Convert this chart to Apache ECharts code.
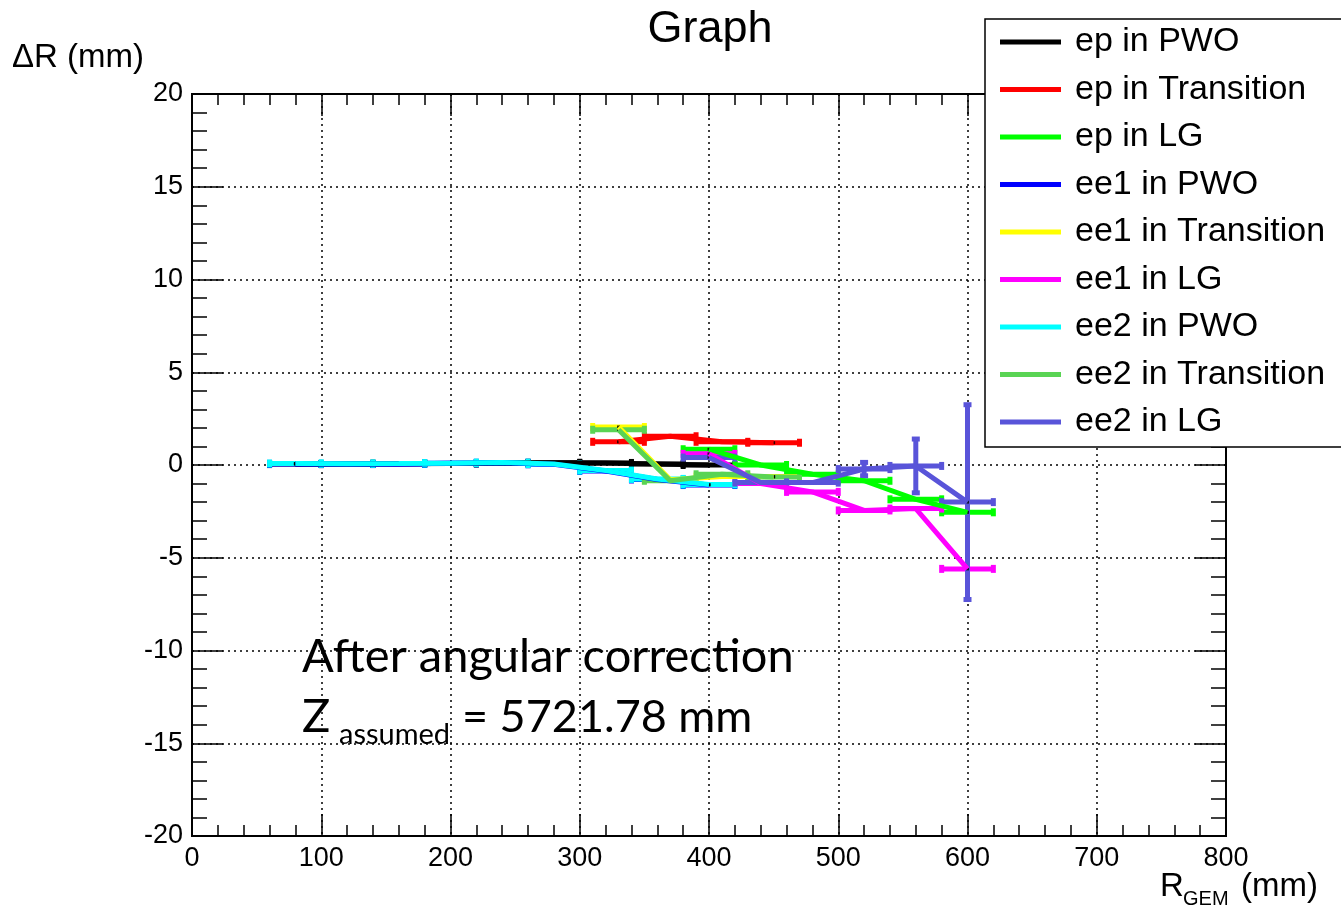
<!DOCTYPE html>
<html>
<head>
<meta charset="utf-8">
<title>Graph</title>
<script src="https://cdn.jsdelivr.net/npm/echarts@6/dist/echarts.min.js"></script>
<style>
  html, body { margin: 0; padding: 0; background: #fff; }
  #main { width: 1341px; height: 916px; }
</style>
</head>
<body>
<div id="main"></div>
<script>
// ---- data ----
var names = ['ep in PWO', 'ep in Transition', 'ep in LG',
             'ee1 in PWO', 'ee1 in Transition', 'ee1 in LG',
             'ee2 in PWO', 'ee2 in Transition', 'ee2 in LG'];
var colors = ['#000000', '#ff0000', '#00ff00',
              '#0000ff', '#ffff00', '#ff00ff',
              '#00ffff', '#59d454', '#5954d9'];

var xPWO = [80, 120, 160, 200, 240, 280, 320, 360, 400];
var xTrans = [330, 370, 410, 450];
var xLG = [400, 440, 480, 520, 560, 600];

var epPWO = [0.05, 0.06, 0.07, 0.08, 0.1, 0.12, 0.11, 0.06, 0.0];
var epTrans = [1.25, 1.55, 1.25, 1.2];
var epLG = [0.85, 0.0, -0.5, -0.85, -1.85, -2.55];
var ee1PWO = [0.06, 0.05, 0.06, 0.09, 0.12, 0.04, -0.32, -0.78, -1.08];
var ee1Trans = [2.05, -0.8, -0.62, -0.62];
var ee1LG = [0.6, -1.0, -1.45, -2.45, -2.35, -5.6];
var ee2PWO = [0.08, 0.07, 0.08, 0.1, 0.13, 0.05, -0.3, -0.75, -1.05];
var ee2Trans = [1.9, -0.85, -0.5, -0.65];
var ee2LG = [0.4, -0.95, -0.95, -0.22, -0.05, -2.0];
var ee2LGerr = [0.1, 0.1, 0.1, 0.36, 1.45, 5.25];

var xErr = 20;

var xs = [xPWO, xTrans, xLG, xPWO, xTrans, xLG, xPWO, xTrans, xLG];
var ys = [epPWO, epTrans, epLG, ee1PWO, ee1Trans, ee1LG, ee2PWO, ee2Trans, ee2LG];
var eys = [null, null, null, null, null, null, null, null, ee2LGerr];

var xTicks = [0, 100, 200, 300, 400, 500, 600, 700, 800];
var yTicks = [-20, -15, -10, -5, 0, 5, 10, 15, 20];

var LW = 5;   // line width
var CAP = 4;  // half length of error bar end caps

function errorItem(params, api) {
  var x = api.value(0), y = api.value(1), ex = api.value(2), ey = api.value(3);
  var c = api.visual('color');
  var l = api.coord([x - ex, y]), r = api.coord([x + ex, y]);
  var t = api.coord([x, y + ey]), b = api.coord([x, y - ey]);
  var st = { stroke: c, lineWidth: LW };
  var kids = [
    { type: 'line', shape: { x1: l[0], y1: l[1], x2: r[0], y2: r[1] }, style: st },
    { type: 'line', shape: { x1: l[0], y1: l[1] - CAP, x2: l[0], y2: l[1] + CAP }, style: st },
    { type: 'line', shape: { x1: r[0], y1: r[1] - CAP, x2: r[0], y2: r[1] + CAP }, style: st }
  ];
  if (b[1] - t[1] > 8) {
    kids.push({ type: 'line', shape: { x1: t[0], y1: t[1], x2: b[0], y2: b[1] }, style: st });
    kids.push({ type: 'line', shape: { x1: t[0] - CAP, y1: t[1], x2: t[0] + CAP, y2: t[1] }, style: st });
    kids.push({ type: 'line', shape: { x1: b[0] - CAP, y1: b[1], x2: b[0] + CAP, y2: b[1] }, style: st });
  }
  return { type: 'group', children: kids };
}

var series = [];
names.forEach(function (name, i) {
  var pts = xs[i].map(function (x, k) { return [x, ys[i][k]]; });
  var errs = xs[i].map(function (x, k) {
    return [x, ys[i][k], xErr, eys[i] ? eys[i][k] : 0];
  });
  series.push({
    name: name, type: 'custom', renderItem: errorItem,
    itemStyle: { color: colors[i] }, encode: { x: 0, y: 1 },
    data: errs, silent: true
  });
  series.push({
    name: name, type: 'line', data: pts, showSymbol: false,
    lineStyle: { color: colors[i], width: LW }, itemStyle: { color: colors[i] },
    silent: true
  });
  series.push({
    name: name, type: 'scatter', data: pts, symbol: 'rect', symbolSize: 3,
    itemStyle: { color: '#000' }, silent: true
  });
});

var FONT = 'Liberation Sans';
var axisFont = { fontFamily: FONT, fontSize: 27, color: '#000' };
var tickLine = { color: '#000', width: 1.5 };

function xAx(pos, main) {
  return {
    type: 'value', position: pos, min: xTicks[0], max: xTicks[xTicks.length - 1], interval: 100,
    axisLine: { onZero: false, lineStyle: { color: '#000', width: 2 } },
    axisTick: { inside: true, length: 22, lineStyle: tickLine },
    minorTick: { show: true, splitNumber: 5, length: 11, lineStyle: tickLine },
    splitLine: { show: main, lineStyle: { color: '#000', width: 1.5, type: [2, 4] } },
    axisLabel: main ? Object.assign({ margin: 9 }, axisFont) : { show: false }
  };
}
function yAx(pos, main) {
  return {
    type: 'value', position: pos, min: yTicks[0], max: yTicks[yTicks.length - 1], interval: 5,
    axisLine: { onZero: false, lineStyle: { color: '#000', width: 2 } },
    axisTick: { inside: true, length: 31, lineStyle: tickLine },
    minorTick: { show: true, splitNumber: 5, length: 15, lineStyle: tickLine },
    splitLine: { show: main, lineStyle: { color: '#000', width: 1.5, type: [2, 4] } },
    axisLabel: main ? Object.assign({ margin: 9 }, axisFont) : { show: false }
  };
}

var chart = echarts.init(document.getElementById('main'));
chart.setOption({
  animation: false,
  backgroundColor: '#fff',
  grid: { left: 192, top: 94, width: 1034, height: 742, show: true,
          borderColor: '#000', borderWidth: 2, backgroundColor: 'transparent' },
  xAxis: [xAx('bottom', true), xAx('top', false)],
  yAxis: [yAx('left', true), yAx('right', false)],
  legend: {
    orient: 'vertical', left: 985, top: 19,
    padding: [5, 60, 7, 15], itemGap: 11.5,
    itemWidth: 61, itemHeight: 5,
    backgroundColor: '#fff', borderColor: '#000', borderWidth: 1.5,
    textStyle: { fontFamily: FONT, fontSize: 34, color: '#000',
                 lineHeight: 36, padding: [0, 0, 0, 9] },
    selectedMode: false,
    data: names.map(function (n, i) {
      return { name: n, icon: 'rect', itemStyle: { color: colors[i] } };
    })
  },
  graphic: [
    { type: 'text', x: 710, y: 30, z: 10,
      style: { text: 'Graph', fontFamily: FONT, fontSize: 45, fill: '#000',
               textAlign: 'center', textVerticalAlign: 'middle' } },
    { type: 'text', x: 12, y: 58, z: 10,
      style: { text: 'ΔR (mm)', fontFamily: FONT, fontSize: 33, fill: '#000',
               textAlign: 'left', textVerticalAlign: 'middle' } },
    { type: 'text', x: 1160, y: 887, z: 10,
      style: { text: 'R', fontFamily: FONT, fontSize: 33, fill: '#000',
               textAlign: 'left', textVerticalAlign: 'middle' } },
    { type: 'text', x: 1183, y: 899, z: 10,
      style: { text: 'GEM', fontFamily: FONT, fontSize: 20, fill: '#000',
               textAlign: 'left', textVerticalAlign: 'middle' } },
    { type: 'text', x: 1318, y: 887, z: 10,
      style: { text: '(mm)', fontFamily: FONT, fontSize: 33, fill: '#000',
               textAlign: 'right', textVerticalAlign: 'middle' } },
    { type: 'text', x: 302, y: 657, z: 10,
      style: { text: 'After angular correction', fontFamily: 'Lato', fontSize: 47, fill: '#000',
               textAlign: 'left', textVerticalAlign: 'middle' } },
    { type: 'text', x: 302, y: 717, z: 10,
      style: { text: 'Z', fontFamily: 'Lato', fontSize: 47, fill: '#000',
               textAlign: 'left', textVerticalAlign: 'middle' } },
    { type: 'text', x: 339, y: 735, z: 10,
      style: { text: 'assumed', fontFamily: 'Lato', fontSize: 29, fill: '#000',
               textAlign: 'left', textVerticalAlign: 'middle' } },
    { type: 'text', x: 462, y: 717, z: 10,
      style: { text: '= 5721.78 mm', fontFamily: 'Lato', fontSize: 45, fill: '#000',
               textAlign: 'left', textVerticalAlign: 'middle' } }
  ],
  series: series
});
</script>
</body>
</html>
